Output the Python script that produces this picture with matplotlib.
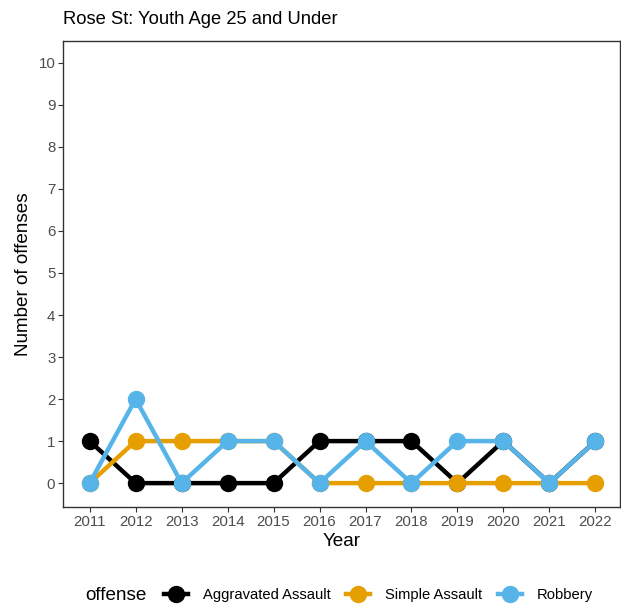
import matplotlib
matplotlib.use("Agg")
import matplotlib.pyplot as plt
from matplotlib.lines import Line2D

plt.rcParams['font.family'] = ['Liberation Sans', 'DejaVu Sans']

# Data
years = [2011, 2012, 2013, 2014, 2015, 2016, 2017, 2018, 2019, 2020, 2021, 2022]
aggravated = [1, 0, 0, 0, 0, 1, 1, 1, 0, 1, 0, 1]
simple = [0, 1, 1, 1, 1, 0, 0, 0, 0, 0, 0, 0]
robbery = [0, 2, 0, 1, 1, 0, 1, 0, 1, 1, 0, 1]
offenses = ['Aggravated Assault', 'Simple Assault', 'Robbery']
colors = ['#000000', '#E69F00', '#56B4E9']
yticks = list(range(0, 11))

fig = plt.figure(figsize=(6.21, 6.08), dpi=100)
ax = fig.add_axes([0.1014, 0.166, 0.8966, 0.7666])

for vals, c in zip([aggravated, simple, robbery], colors):
    ax.plot(years, vals, color=c, lw=3.2, marker='o', markersize=11.5,
            solid_capstyle='butt')

ax.set_xlim(2010.42, 2022.53)
ax.set_ylim(-0.57, 10.52)
ax.set_xticks(years)
ax.set_yticks(yticks)
ax.tick_params(axis='both', labelsize=10.8, labelcolor='#4D4D4D',
               color='#333333', length=3.5, width=0.8, pad=2)
for s in ax.spines.values():
    s.set_color('#333333')
    s.set_linewidth(1.0)

ax.set_xlabel('Year', fontsize=13.6, labelpad=3)
ax.set_ylabel('Number of offenses', fontsize=13.6, labelpad=5)
ax.set_title('Rose St: Youth Age 25 and Under', fontsize=13.2, loc='left',
             x=0.0, pad=12)

handles = [Line2D([0], [0], color=c, lw=3.2, marker='o', markersize=11.5)
           for c in colors]
fig.text(0.138, 0.021, 'offense', fontsize=13.6, va='center', ha='left')
fig.legend(handles, offenses, loc='center left', bbox_to_anchor=(0.255, 0.021),
           ncol=3, frameon=False, fontsize=10.6, handlelength=1.6,
           columnspacing=1.1, handletextpad=1.0, borderaxespad=0)

fig.savefig('out.png', dpi=100)
